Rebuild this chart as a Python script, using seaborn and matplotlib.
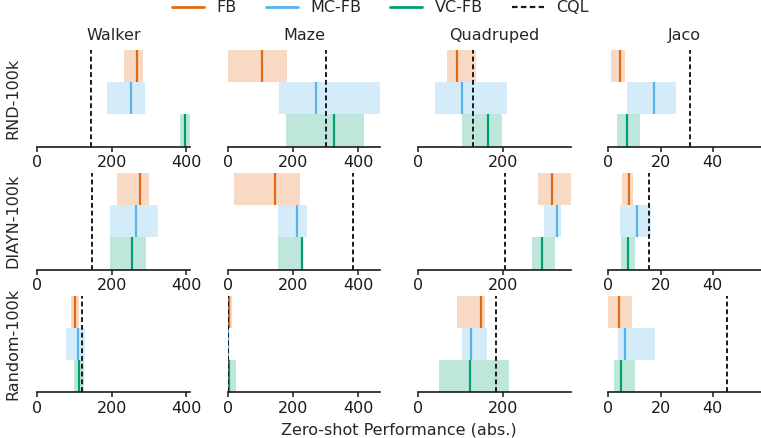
import numpy as np
import matplotlib
matplotlib.use('Agg')
import matplotlib.pyplot as plt
import seaborn as sns
from matplotlib.lines import Line2D

# ── DATA ─────────────────────────────────────────────────────────────────────
ENVS = ["Walker", "Maze", "Quadruped", "Jaco"]
DATASETS = ["RND-100k", "DIAYN-100k", "Random-100k"]
ALGOS = ["FB", "MC-FB", "VC-FB"]
COLORS = {"FB": "#e06a14", "MC-FB": "#56b4e9", "VC-FB": "#009e73"}

# rows = datasets, cols = envs ; (lower, point, upper)
FB_LOW = [[232, 0, 69, 1.1], [215, 20, 283, 5.1], [91, 0, 92, 0.0]]
FB_MID = [[266, 104, 92, 4.5], [276, 145, 318, 8.0], [102, 5, 148, 4.1]]
FB_UP = [[284, 182, 138, 6.2], [300, 220, 361, 9.4], [113, 13, 158, 9.2]]

MC_LOW = [[187, 156, 39, 7.0], [195, 154, 299, 4.4], [78, 0, 105, 3.7]]
MC_MID = [[252, 271, 104, 17.5], [265, 213, 328, 11.1], [108, 2, 126, 6.2]]
MC_UP = [[288, 470, 211, 26.1], [323, 243, 339, 16.3], [128, 3, 164, 17.7]]

VC_LOW = [[382, 180, 104, 3.2], [195, 154, 270, 4.7], [99, 1, 50, 2.0]]
VC_MID = [[395, 327, 166, 7.0], [253, 228, 293, 7.6], [112, 5, 124, 5.0]]
VC_UP = [[409, 417, 199, 12.1], [291, 231, 324, 10.1], [124, 27, 216, 10.1]]

CQL = [[143, 302, 129, 31.5], [148, 383, 206, 15.4], [119, 1, 185, 45.7]]

XLIMS = [409, 467, 361, 58.6]
XTICKS = [[0, 200, 400], [0, 200, 400], [0, 200], [0, 20, 40]]
# ─────────────────────────────────────────────────────────────────────────────

sns.set_theme(style="ticks")
plt.rcParams['font.family'] = ['DejaVu Sans']
plt.rcParams['font.size'] = 11.5

intervals = {
    "FB": (np.array(FB_LOW), np.array(FB_MID), np.array(FB_UP)),
    "MC-FB": (np.array(MC_LOW), np.array(MC_MID), np.array(MC_UP)),
    "VC-FB": (np.array(VC_LOW), np.array(VC_MID), np.array(VC_UP)),
}

fig, axes = plt.subplots(3, 4, figsize=(7.61, 4.38), dpi=100)
fig.subplots_adjust(left=0.049, right=1.0, top=0.886, bottom=0.104,
                    wspace=0.248, hspace=0.269)

for r, ds in enumerate(DATASETS):
    for c, env in enumerate(ENVS):
        ax = axes[r, c]
        for k, algo in enumerate(ALGOS):
            lo, mid, up = intervals[algo]
            y = len(ALGOS) - 1 - k
            ax.barh(y=y, width=up[r, c] - lo[r, c], left=lo[r, c], height=1.0,
                    color=COLORS[algo], alpha=0.25, linewidth=0)
            ax.vlines(mid[r, c], y - 0.5, y + 0.5, color=COLORS[algo], lw=1.6)
        ax.axvline(CQL[r][c], color="#1a1a1a", lw=1.4, ls=(0, (2.5, 1.5)),
                   zorder=5)
        ax.set_xlim(0, XLIMS[c])
        ax.set_ylim(-0.5, 2.5)
        ax.set_xticks(XTICKS[c])
        ax.set_yticks([])
        ax.tick_params(axis='x', labelsize=11.5, length=3.5, width=1.1,
                       pad=2.5, colors="#1a1a1a")
        sns.despine(ax=ax, left=True)
        ax.spines['bottom'].set_linewidth(1.2)
        ax.spines['bottom'].set_color("#1a1a1a")
        if r == 0:
            ax.set_title(env, fontsize=11.5, pad=7)
        if c == 0:
            ax.set_ylabel(ds, fontsize=11.5, labelpad=12)

fig.text(0.524, 0.018, "Zero-shot Performance (abs.)", ha='center',
         va='center', fontsize=11.5)

handles = [Line2D([0], [0], color=COLORS[a], lw=2) for a in ALGOS]
handles.append(Line2D([0], [0], color="#1a1a1a", lw=1.6, ls=(0, (2.5, 1.5))))
fig.legend(handles, ALGOS + ["CQL"], loc='upper center', ncol=4,
           frameon=False, bbox_to_anchor=(0.5, 1.032), fontsize=11.5,
           handlelength=2.0, columnspacing=1.8)

fig.savefig("out.png", dpi=100)
